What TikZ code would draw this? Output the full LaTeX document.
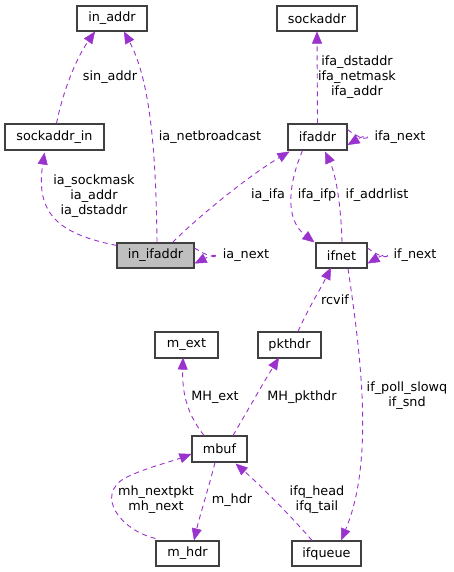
\documentclass[tikz,border=0pt]{standalone}
\usepackage{fontspec}
\setmainfont{DejaVu Sans}
\usetikzlibrary{arrows.meta}
\definecolor{edgec}{HTML}{9A32CD}
\definecolor{boxc}{HTML}{404040}
\tikzset{
  cls/.style={draw=boxc, line width=1.1pt, fill=white, rectangle, inner sep=0pt, font=\fontsize{12.8}{15}\selectfont},
  rel/.style={draw=edgec, line width=0.9pt, dash pattern=on 5pt off 4pt, -{Triangle[length=12pt,width=10pt,fill=edgec,line width=0.5pt]}},
  lbl/.style={font=\fontsize{12.8}{15}\selectfont, align=center, inner sep=0pt}
}
\begin{document}
\begin{tikzpicture}[x=1pt,y=-1pt]
\useasboundingbox (0,0) rectangle (453,572);
% nodes
\node[cls, minimum width=70pt, minimum height=25pt] (inaddr) at (112,18.5) {in\_addr};
\node[cls, minimum width=99pt, minimum height=26pt] (sockin) at (54.5,137) {sockaddr\_in};
\node[cls, minimum width=77pt, minimum height=25pt, fill={rgb,255:red,191;green,191;blue,191}] (inifaddr) at (155.5,255.5) {in\_ifaddr};
\node[cls, minimum width=80pt, minimum height=25pt] (sockaddr) at (317,18.5) {sockaddr};
\node[cls, minimum width=59pt, minimum height=26pt] (ifaddr) at (317.5,137) {ifaddr};
\node[cls, minimum width=51pt, minimum height=25pt] (ifnet) at (341.5,255.5) {ifnet};
\node[cls, minimum width=63pt, minimum height=26pt] (mext) at (186.5,345) {m\_ext};
\node[cls, minimum width=63pt, minimum height=26pt] (pkthdr) at (289.5,345) {pkthdr};
\node[cls, minimum width=55pt, minimum height=26pt] (mbuf) at (219.5,449) {mbuf};
\node[cls, minimum width=63pt, minimum height=25pt] (mhdr) at (187.5,553.5) {m\_hdr};
\node[cls, minimum width=69pt, minimum height=25pt] (ifqueue) at (326.5,553.5) {ifqueue};

% coordinates for connector ends
\coordinate (e1s) at ([xshift=2pt]sockin.north);
\coordinate (e1t) at ([xshift=-17pt]inaddr.south);
\coordinate (e2s) at ([xshift=1.5pt]inifaddr.north);
\coordinate (e2t) at ([xshift=12pt]inaddr.south);
\coordinate (e3s) at ([yshift=-3pt]inifaddr.north west);
\coordinate (e3t) at ([xshift=-10pt,yshift=-2pt]sockin.south);
\coordinate (e4s) at ([xshift=17pt]inifaddr.north);
\coordinate (e4t) at ([xshift=2pt,yshift=-1pt]ifaddr.south west);
\coordinate (e5s) at ([yshift=7.5pt]inifaddr.east);
\coordinate (e5t) at ([yshift=-8pt]inifaddr.east);
\coordinate (e7s) at ([yshift=7.5pt]ifaddr.east);
\coordinate (e7t) at ([yshift=-8pt]ifaddr.east);
\coordinate (e10s) at ([yshift=7.5pt]ifnet.east);
\coordinate (e10t) at ([yshift=-8pt]ifnet.east);
\coordinate (e8s) at ([xshift=-15pt]ifaddr.south);
\coordinate (e8t) at ([xshift=-27pt]ifnet.north);
\coordinate (e9s) at ([xshift=0.5pt]ifnet.north);
\coordinate (e9t) at ([xshift=7.5pt,yshift=-1pt]ifaddr.south);
\coordinate (e11s) at ([xshift=8.5pt]pkthdr.north);
\coordinate (e11t) at ([xshift=-10.5pt,yshift=1pt]ifnet.south);
\coordinate (e12s) at ([xshift=6.5pt]ifnet.south);
\coordinate (e12t) at ([xshift=14.5pt]ifqueue.north);
\coordinate (e13s) at ([xshift=-15.5pt]mbuf.north);
\coordinate (e13t) at ([xshift=-3.5pt,yshift=1pt]mext.south);
\coordinate (e14s) at ([xshift=13.5pt]mbuf.north);
\coordinate (e14t) at ([xshift=-10.5pt,yshift=1pt]pkthdr.south);
\coordinate (e15s) at ([xshift=-4.5pt]mbuf.south);
\coordinate (e15t) at ([xshift=6.5pt]mhdr.north);
\coordinate (e16s) at ([yshift=2pt]mhdr.north west);
\coordinate (e16t) at ([yshift=-5pt]mbuf.west);
\coordinate (e17s) at ([xshift=-14.5pt]ifqueue.north);
\coordinate (e17t) at ([xshift=-12pt,yshift=-1pt]mbuf.south east);

% connectors
\draw[rel] (e1s) .. controls (62,95) and (75,60) .. (e1t);
\draw[rel] (e2s) .. controls (156,150) and (150,80) .. (e2t);
\draw[rel] (e3s) .. controls (60,234) and (35,215) .. (e3t);
\draw[rel] (e4s) .. controls (200,215) and (250,175) .. (e4t);
\draw[rel] (e5s) .. controls (222,266) and (224,249) .. (e5t);
\draw[rel] (ifaddr.north) -- (sockaddr.south);
\draw[rel] (e7s) .. controls (371,148) and (373,130) .. (e7t);
\draw[rel] (e8s) .. controls (290,180) and (283,218) .. (e8t);
\draw[rel] (e9s) .. controls (341,205) and (336,175) .. (e9t);
\draw[rel] (e10s) .. controls (391,266) and (393,249) .. (e10t);
\draw[rel] (e11s) .. controls (310,305) and (320,290) .. (e11t);
\draw[rel] (e12s) .. controls (360,350) and (375,460) .. (e12t);
\draw[rel] (e13s) .. controls (188,415) and (182,395) .. (e13t);
\draw[rel] (e14s) .. controls (248,410) and (262,385) .. (e14t);
\draw[rel] (e15s) .. controls (208,490) and (200,515) .. (e15t);
\draw[rel] (e16s) .. controls (120,530) and (95,495) .. (125,478) .. controls (145,468) and (170,462) .. (e16t);
\draw[rel] (e17s) .. controls (290,515) and (260,485) .. (e17t);

% labels
\node[lbl] (l1) at (110,77) {sin\_addr};
\node[lbl] (l2) at (210,137) {ia\_netbroadcast};
\node[lbl] (l3) at (94,196) {ia\_sockmask\\ia\_addr\\ia\_dstaddr};
\node[lbl] (l4) at (268,195) {ia\_ifa};
\node[lbl] (l5) at (246,255) {ia\_next};
\node[lbl] (l6) at (357,77) {ifa\_dstaddr\\ifa\_netmask\\ifa\_addr};
\node[lbl] (l7) at (400,137) {ifa\_next};
\node[lbl] (l8) at (317,195) {ifa\_ifp};
\node[lbl] (l9) at (377,195) {if\_addrlist};
\node[lbl] (l10) at (415,255) {if\_next};
\node[lbl] (l11) at (335,300) {rcvif};
\node[lbl] (l12) at (407,396) {if\_poll\_slowq\\if\_snd};
\node[lbl] (l13) at (215,397) {MH\_ext};
\node[lbl] (l14) at (302,397) {MH\_pkthdr};
\node[lbl] (l15) at (232,500) {m\_hdr};
\node[lbl] (l16) at (156,500) {mh\_nextpkt\\mh\_next};
\node[lbl] (l17) at (317,500) {ifq\_head\\ifq\_tail};
\end{tikzpicture}
\end{document}
